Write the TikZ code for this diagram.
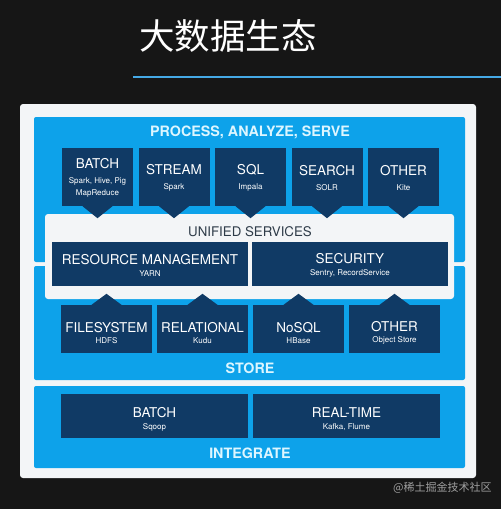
\documentclass[tikz,border=0pt]{standalone}
\usepackage{fontspec}
\setmainfont{TeX Gyre Heros}
\newfontfamily\cjk{Noto Sans CJK SC}
\usetikzlibrary{calc}
\definecolor{bg}{HTML}{161616}
\definecolor{panel}{HTML}{0DA2EA}
\definecolor{navy}{HTML}{103A65}
\definecolor{framec}{HTML}{F3F5F7}
\definecolor{ptitle}{HTML}{DDF6FF}
\definecolor{uline}{HTML}{45A9E6}
\definecolor{utitle}{HTML}{2E3B48}
\newcommand\bxt[1]{{\fontsize{13.5}{15}\selectfont #1}}
\newcommand\bxs[1]{{\fontsize{8}{10}\selectfont #1}}
\newcommand\downtri[1]{\fill[navy] ($(#1.south)+(-15,0)$) -- ($(#1.south)+(0,12)$) -- ($(#1.south)+(15,0)$) -- cycle;}
\newcommand\uptri[1]{\fill[navy] ($(#1.north)+(-15,0)$) -- ($(#1.north)+(0,-11)$) -- ($(#1.north)+(15,0)$) -- cycle;}
\tikzset{
  navybox/.style={fill=navy, inner sep=0pt, minimum height=#1},
  navybox/.default=44pt,
  topbox/.style={navybox=58pt, minimum width=71pt},
  storebox/.style={navybox=48pt, minimum width=91pt},
  btext/.style={text=white, inner sep=0pt, align=center},
  paneltitle/.style={text=ptitle, font=\bfseries\fontsize{14.3}{16}\selectfont, inner sep=0pt},
  panelbg/.style={fill=panel, rounded corners=2pt},
}
\begin{document}
\begin{tikzpicture}[x=1pt,y=-1pt]
\useasboundingbox (0,0) rectangle (501,509);
\fill[bg] (0,0) rectangle (501,509);
% title
\node[text=white, font=\cjk\fontsize{35.5}{35.5}\selectfont, inner sep=0pt] (title) at (228,36) {大数据生态};
\coordinate (l1) at (133,77);
\coordinate (l2) at (501,77);
\draw[uline, line width=1.8pt] (l1) -- (l2);
% frame
\fill[framec, rounded corners=3pt] (20,104) rectangle (476,478);
% panels
\fill[panelbg] (34,117) rectangle (465,262);
\fill[panelbg] (34,266) rectangle (465,380);
\fill[panelbg] (34,386) rectangle (465,468);
% unified services
\fill[framec, rounded corners=3pt] (45,214) rectangle (454,299);
\node[paneltitle] (pas) at (250,132) {PROCESS, ANALYZE, SERVE};
\node[text=utitle, font=\fontsize{13.3}{15}\selectfont, inner sep=0pt] (us) at (250,232) {UNIFIED SERVICES};
\node[paneltitle] (store) at (250,368.5) {STORE};
\node[paneltitle] (integ) at (250,453.5) {INTEGRATE};
% top row
\node[topbox] (batch) at (97.5,177) {};
\node[topbox] (stream) at (174,177) {};
\node[topbox] (sql) at (250.5,177) {};
\node[topbox] (search) at (327,177) {};
\node[topbox] (otherp) at (403.5,177) {};
\downtri{batch}
\downtri{stream}
\downtri{sql}
\downtri{search}
\downtri{otherp}
\node[btext] (batch-t) at ($(batch)+(0,1)$) {\bxt{BATCH}\\[3pt]\bxs{Spark, Hive, Pig}\\\bxs{MapReduce}};
\node[btext] (stream-t) at ($(stream)+(0,1)$) {\bxt{STREAM}\\[3pt]\bxs{Spark}};
\node[btext] (sql-t) at ($(sql)+(0,1)$) {\bxt{SQL}\\[3pt]\bxs{Impala}};
\node[btext] (search-t) at ($(search)+(0,1)$) {\bxt{SEARCH}\\[3pt]\bxs{SOLR}};
\node[btext] (otherp-t) at ($(otherp)+(0,1)$) {\bxt{OTHER}\\[3pt]\bxs{Kite}};
% unified services boxes
\node[navybox, minimum width=196pt] (rm) at (150,264) {};
\node[navybox, minimum width=196pt] (sec) at (350,264) {};
\node[btext] (rm-t) at ($(rm)+(0,1.5)$) {\bxt{RESOURCE MANAGEMENT}\\[0pt]\bxs{YARN}};
\node[btext] (sec-t) at ($(sec)+(0,1.5)$) {\bxt{SECURITY}\\[0pt]\bxs{Sentry, RecordService}};
% store row
\node[storebox] (fs) at (106.5,329) {};
\node[storebox] (rel) at (202.5,329) {};
\node[storebox] (nosql) at (298.5,329) {};
\node[storebox] (others) at (394.5,329) {};
\uptri{fs}
\uptri{rel}
\uptri{nosql}
\uptri{others}
\node[btext] (fs-t) at ($(fs)+(0,4)$) {\bxt{FILESYSTEM}\\[-1pt]\bxs{HDFS}};
\node[btext] (rel-t) at ($(rel)+(0,4)$) {\bxt{RELATIONAL}\\[-1pt]\bxs{Kudu}};
\node[btext] (nosql-t) at ($(nosql)+(0,4)$) {\bxt{NoSQL}\\[-1pt]\bxs{HBase}};
\node[btext] (others-t) at ($(others)+(0,4)$) {\bxt{OTHER}\\[-1pt]\bxs{Object Store}};
% integrate
\node[navybox, minimum width=187pt] (ib) at (154.5,416) {};
\node[navybox, minimum width=187pt] (irt) at (346.5,416) {};
\node[btext] (ib-t) at ($(ib)+(0,3)$) {\bxt{BATCH}\\[0pt]\bxs{Sqoop}};
\node[btext] (irt-t) at ($(irt)+(0,3)$) {\bxt{REAL-TIME}\\[0pt]\bxs{Kafka, Flume}};
% watermark
\node[anchor=west, text=gray!75, font=\cjk\fontsize{11}{11}\selectfont, inner sep=0pt] (wm) at (393,488) {@稀土掘金技术社区};
\end{tikzpicture}
\end{document}
